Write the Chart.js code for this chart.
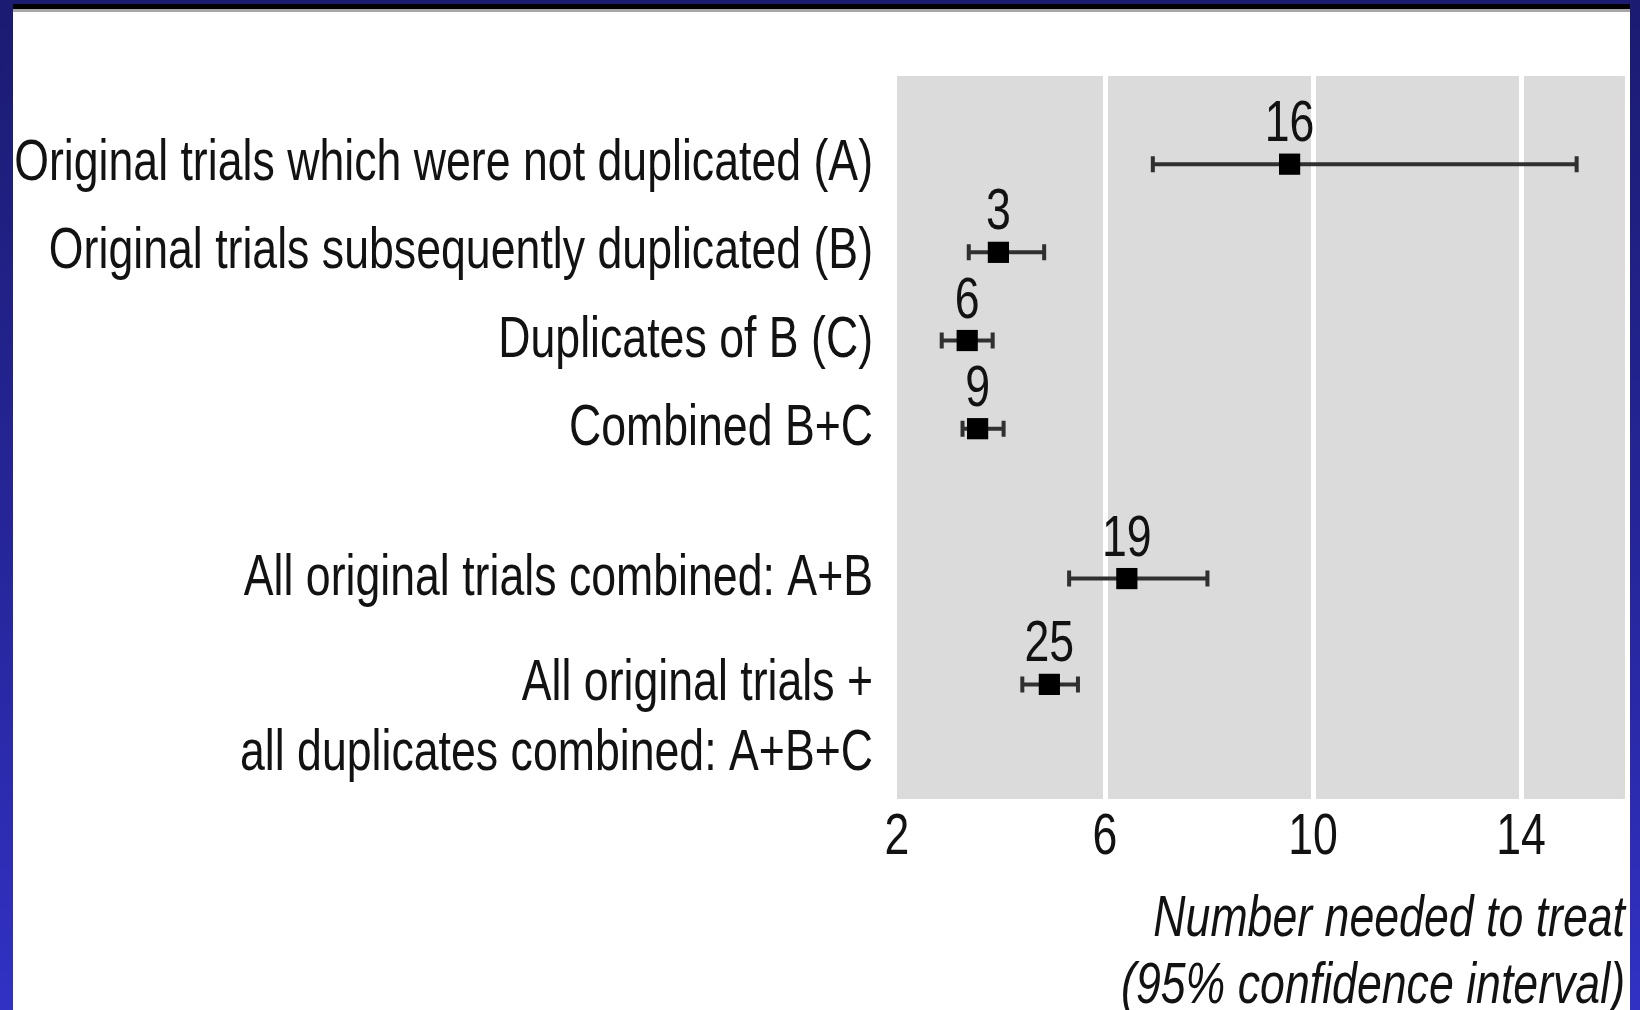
<!DOCTYPE html>
<html>
<head>
<meta charset="utf-8">
<script src="https://cdn.jsdelivr.net/npm/chart.js@4.4.0/dist/chart.umd.min.js"></script>
<style>
  html, body { margin: 0; padding: 0; background: #fff; }
  #frame { position: relative; width: 1640px; height: 1010px; overflow: hidden; background: #fff; }
  #chart { position: absolute; left: 0; top: 0; }
  .edge { position: absolute; top: 0; height: 1010px; background: linear-gradient(#1b1b72, #27279f 60%, #3131c4); }
  .edge.left { left: 0; width: 13px; }
  .edge.right { right: 0; width: 10px; }
  .band { position: absolute; left: 0; top: 0; width: 1640px; height: 4px; background: #1b1b72; }
  .rule { position: absolute; left: 13px; top: 4px; width: 1617px; height: 5px; background: #000; border-bottom: 3px solid #a6a6a6; }
</style>
</head>
<body>
<div id="frame">
  <canvas id="chart" width="1640" height="1040"></canvas>
  <div class="band"></div>
  <div class="rule"></div>
  <div class="edge left"></div>
  <div class="edge right"></div>
</div>
<script>
const categories = [
  'Original trials which were not duplicated (A)',
  'Original trials subsequently duplicated (B)',
  'Duplicates of B (C)',
  'Combined B+C',
  'All original trials combined: A+B',
  ['All original trials +', 'all duplicates combined: A+B+C']
];
const rowPos = [1, 2, 3, 4, 5.7, 6.9];
const nnt = [9.55, 3.95, 3.35, 3.55, 6.42, 4.93];
const ciLow = [6.92, 3.38, 2.86, 3.26, 5.31, 4.41];
const ciHigh = [15.07, 4.83, 3.84, 4.05, 7.97, 5.48];
const trialCounts = [16, 3, 6, 9, 19, 25];
const xTicks = [2, 6, 10, 14];

const FONT = '"Liberation Sans", Arial, sans-serif';
const FONT_SIZE = 58;
const SQUEEZE = 0.77; // the original type is a narrow grotesque
const TEXT = '#121212';

// condense every label horizontally through fillText's maxWidth
const ctx = document.getElementById('chart').getContext('2d');
const rawFill = ctx.fillText.bind(ctx);
ctx.fillText = (t, x, y, mw) => {
  const w = ctx.measureText(t).width * SQUEEZE;
  if (!w) return;
  rawFill(t, x, y, mw === undefined ? w : Math.min(mw, w));
};

const panel = {
  id: 'panel',
  beforeDraw(chart) {
    const { ctx, chartArea: a } = chart;
    ctx.save();
    ctx.fillStyle = '#dbdbdb';
    ctx.fillRect(a.left, a.top, a.right - a.left, a.bottom - a.top);
    ctx.restore();
  }
};

const errorBars = {
  id: 'errorBars',
  beforeDatasetsDraw(chart) {
    const { ctx, scales: { x, y } } = chart;
    ctx.save();
    ctx.strokeStyle = '#303030';
    ctx.lineWidth = 4;
    rowPos.forEach((r, i) => {
      const py = y.getPixelForValue(r);
      const x0 = x.getPixelForValue(ciLow[i]);
      const x1 = x.getPixelForValue(ciHigh[i]);
      ctx.beginPath();
      ctx.moveTo(x0, py); ctx.lineTo(x1, py);
      ctx.moveTo(x0, py - 8); ctx.lineTo(x0, py + 8);
      ctx.moveTo(x1, py - 8); ctx.lineTo(x1, py + 8);
      ctx.stroke();
    });
    ctx.restore();
  },
  afterDatasetsDraw(chart) {
    const { ctx, scales: { x, y } } = chart;
    ctx.save();
    ctx.fillStyle = TEXT;
    ctx.font = FONT_SIZE + 'px ' + FONT;
    ctx.textAlign = 'center';
    ctx.textBaseline = 'middle';
    rowPos.forEach((r, i) => {
      ctx.fillText(String(trialCounts[i]), x.getPixelForValue(nnt[i]), y.getPixelForValue(r) - 39);
    });
    ctx.restore();
  }
};

new Chart(ctx, {
  type: 'scatter',
  data: {
    datasets: [{
      data: rowPos.map((r, i) => ({ x: nnt[i], y: r })),
      pointStyle: 'rect',
      pointRadius: 15,
      pointHoverRadius: 15,
      backgroundColor: '#000',
      borderWidth: 0
    }]
  },
  options: {
    responsive: false,
    animation: false,
    events: [],
    layout: { padding: { left: 13, top: 76, right: 14, bottom: 0 } },
    plugins: { legend: { display: false }, tooltip: { enabled: false } },
    scales: {
      x: {
        type: 'linear', min: 2, max: 16,
        afterBuildTicks: s => { s.ticks = xTicks.map(v => ({ value: v })); },
        afterFit: s => { s.height = 241; s.paddingLeft = 0; s.paddingRight = 0; },
        border: { display: false },
        grid: {
          drawTicks: false,
          lineWidth: 5,
          color: c => (c.tick && c.tick.value === xTicks[0]) ? 'rgba(0,0,0,0)' : '#ffffff'
        },
        ticks: { padding: 7, color: TEXT, font: { family: FONT, size: FONT_SIZE, lineHeight: 1.1 }, maxRotation: 0 },
        title: {
          display: true,
          text: ['Number needed to treat', '(95% confidence interval)'],
          align: 'end',
          color: TEXT,
          font: { family: FONT, size: FONT_SIZE, style: 'italic', lineHeight: 67 / FONT_SIZE },
          padding: { top: 0, bottom: 20 }
        }
      },
      y: {
        type: 'linear', reverse: true, min: 0, max: 8.2,
        afterBuildTicks: s => { s.ticks = rowPos.map(v => ({ value: v })); },
        afterFit: s => { s.width = 884; s.paddingTop = 0; s.paddingBottom = 0; },
        border: { display: false },
        grid: { display: false, drawTicks: false },
        ticks: {
          autoSkip: false,
          padding: 24,
          color: TEXT,
          font: { family: FONT, size: FONT_SIZE, lineHeight: 70 / FONT_SIZE },
          callback: (v, i) => Array.isArray(categories[i]) ? [''].concat(categories[i]) : categories[i]
        }
      }
    }
  },
  plugins: [panel, errorBars]
});
</script>
</body>
</html>
